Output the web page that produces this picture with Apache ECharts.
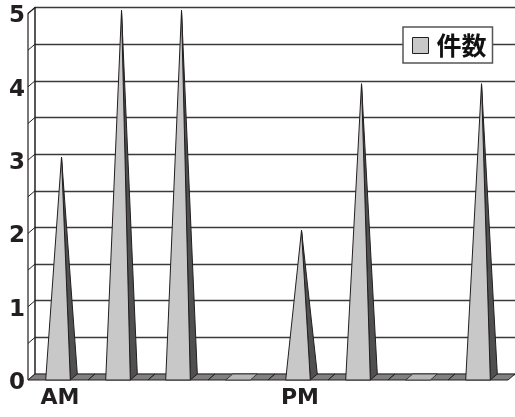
<!DOCTYPE html>
<html>
<head>
<meta charset="utf-8">
<script src="https://cdn.jsdelivr.net/npm/echarts@6/dist/echarts.min.js"></script>
<style>
  html, body { margin: 0; padding: 0; background: #fff; }
  #chart { width: 515px; height: 417px; }
</style>
</head>
<body>
<div id="chart"></div>
<script>
// Time slots along the floor; only the AM / PM starts carry a label
const categories = ['AM', '', '', '', 'PM', '', '', ''];
// Count per slot
const counts = [3, 5, 5, 0, 2, 4, 0, 4];
// Value axis ticks (labelled on whole numbers, grid every half)
const yMin = 0, yMax = 5, yStep = 0.5;
const seriesName = '件数';

// depth of the 3D box: back wall -> front edge
const DX = -7, DY = 6;
const INK = '#231f20';

const chart = echarts.init(document.getElementById('chart'), null, { renderer: 'canvas' });

function pyramid(params, api) {
  const idx = api.value(0), v = api.value(1);
  const base = api.coord([idx, 0]);
  const top = api.coord([idx, v]);
  const w = api.size([1, 0])[0];
  const hw = w * 0.205;
  const bx = base[0], by = base[1];
  const bl = [bx - hw, by], br = [bx + hw, by];
  const fl = [bx - hw + DX, by + DY], fr = [bx + hw + DX, by + DY];
  if (v <= 0) {
    return { type: 'polygon', shape: { points: [fl, fr, br, bl] },
      style: { fill: '#b8b8b8', stroke: INK, lineWidth: 0.8 } };
  }
  const apex = [bx + DX / 2, top[1] + DY / 2];
  return {
    type: 'group',
    children: [
      { type: 'polygon', shape: { points: [fr, br, apex] },
        style: { fill: '#505050', stroke: INK, lineWidth: 1 } },
      { type: 'polygon', shape: { points: [fl, fr, apex] },
        style: { fill: '#c8c8c8', stroke: INK, lineWidth: 1 } }
    ]
  };
}

function floor(params, api) {
  const idx = api.value(0);
  const base = api.coord([idx, 0]);
  const w = api.size([1, 0])[0];
  const x0 = base[0] - w / 2, x1 = base[0] + w / 2, y = base[1];
  return { type: 'polygon',
    shape: { points: [[x0, y], [x1, y], [x1 + DX, y + DY], [x0 + DX, y + DY]] },
    style: { fill: '#808080', stroke: INK, lineWidth: 1 } };
}

function sideWall(params, api) {
  const cs = params.coordSys;
  const x = cs.x;
  const children = [];
  const yTop = api.coord([0, yMax])[1], yBot = api.coord([0, yMin])[1];
  children.push({ type: 'polyline',
    shape: { points: [[x, yTop], [x + DX, yTop + DY], [x + DX, yBot + DY]] },
    style: { stroke: INK, lineWidth: 1.2, fill: null } });
  for (let t = yMin; t <= yMax + 1e-9; t += yStep) {
    const yy = api.coord([0, t])[1];
    children.push({ type: 'line',
      shape: { x1: x, y1: yy, x2: x + DX, y2: yy + DY },
      style: { stroke: INK, lineWidth: 1 } });
  }
  return { type: 'group', children };
}

chart.setOption({
  animation: false,
  backgroundColor: '#fff',
  grid: { left: 35, right: 0, top: 7.5, bottom: 43 },
  legend: {
    data: [{ name: seriesName, icon: 'rect' }],
    left: 403, top: 27,
    padding: [6, 6, 5, 9],
    itemWidth: 16, itemHeight: 16,
    backgroundColor: '#fff',
    borderColor: '#555', borderWidth: 1.5, borderRadius: 0,
    itemStyle: { color: '#c8c8c8', borderColor: INK, borderWidth: 1 },
    textStyle: { fontFamily: 'Noto Sans CJK JP', fontWeight: 'bold', fontSize: 25,
      color: '#111', lineHeight: 22, padding: [0, 0, 0, 3] }
  },
  xAxis: {
    type: 'category',
    data: categories,
    boundaryGap: true,
    axisLine: { show: false },
    axisTick: { show: false },
    axisLabel: {
      interval: 0, margin: 13,
      formatter: v => v ? '{t|' + v + '}' : '',
      rich: { t: { fontFamily: 'DejaVu Sans', fontWeight: 'bold', fontSize: 22,
        color: '#231f20', padding: [0, 10, 0, 0] } }
    },
    splitLine: { show: false }
  },
  yAxis: {
    type: 'value',
    min: yMin, max: yMax, interval: yStep,
    axisLine: { show: true, lineStyle: { color: INK, width: 1.5 } },
    axisTick: { show: false },
    axisLabel: {
      margin: 10,
      formatter: v => Number.isInteger(v) ? '{n|' + v + '}' : '',
      rich: { n: { fontFamily: 'DejaVu Sans', fontWeight: 'bold', fontSize: 23,
        color: '#231f20', padding: [18, 0, 0, 0] } }
    },
    splitLine: { show: true, lineStyle: { color: '#3a3a3a', width: 1.3 } }
  },
  series: [
    { type: 'custom', renderItem: sideWall, data: [[0, 0]], silent: true, z: 2 },
    { type: 'custom', renderItem: floor, data: categories.map((c, i) => [i, 0]), silent: true, z: 3 },
    { type: 'custom', name: seriesName, renderItem: pyramid,
      itemStyle: { color: '#c8c8c8', borderColor: INK, borderWidth: 1 },
      data: counts.map((v, i) => [i, v]), z: 4 }
  ]
});
</script>
</body>
</html>
